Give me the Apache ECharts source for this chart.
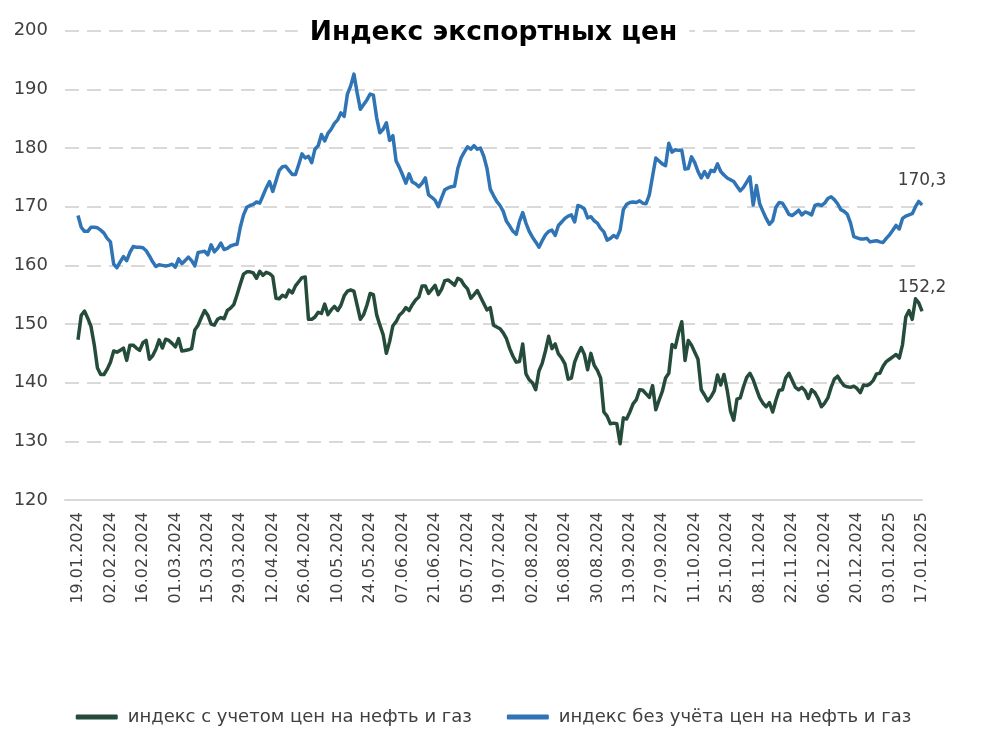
<!DOCTYPE html>
<html>
<head>
<meta charset="utf-8">
<script src="https://cdn.jsdelivr.net/npm/echarts@6/dist/echarts.min.js"></script>
<style>
html, body { margin: 0; padding: 0; background: #fff; }
#chart { width: 987px; height: 742px; }
</style>
</head>
<body>
<div id="chart"></div>
<script>
// business days 19.01.2024 .. 17.01.2025 (261 points)
const firstDay = new Date(2024, 0, 19)
const lastDay = new Date(2025, 0, 17)

// индекс с учетом цен на нефть и газ
const withOilGas = [
  147.3, 151.5, 152.2, 151.0, 149.6, 146.5, 142.5, 141.4, 141.4, 142.3,
  143.5, 145.4, 145.2, 145.5, 145.9, 143.8, 146.4, 146.4, 145.9, 145.5,
  146.8, 147.2, 144.0, 144.6, 145.7, 147.3, 145.9, 147.4, 147.2, 146.7,
  146.1, 147.5, 145.4, 145.5, 145.6, 145.8, 149.0, 149.8, 151.1, 152.3,
  151.5, 150.0, 149.8, 150.8, 151.1, 150.9, 152.3, 152.7, 153.3, 155.0,
  156.8, 158.5, 158.9, 158.9, 158.7, 157.8, 159.0, 158.3, 158.8, 158.6,
  158.1, 154.4, 154.3, 154.9, 154.6, 155.8, 155.3, 156.5, 157.2, 157.9,
  158.0, 150.8, 150.8, 151.2, 152.0, 151.8, 153.4, 151.6, 152.4, 153.0,
  152.3, 153.2, 154.8, 155.6, 155.8, 155.6, 153.2, 150.8, 151.6, 153.2,
  155.2, 155.0, 151.6, 149.8, 148.2, 145.0, 147.0, 149.7, 150.4, 151.5,
  152.0, 152.8, 152.3, 153.3, 154.1, 154.6, 156.5, 156.5, 155.2, 155.9,
  156.6, 155.0, 155.9, 157.4, 157.5, 157.1, 156.6, 157.8, 157.5, 156.6,
  156.0, 154.4, 155.0, 155.7, 154.6, 153.5, 152.4, 152.8, 149.8, 149.5,
  149.2, 148.5, 147.5, 145.8, 144.5, 143.5, 143.6, 146.6, 141.5, 140.5,
  140.0, 138.8, 142.0, 143.3, 145.4, 147.9, 145.8, 146.6, 144.9, 144.2,
  143.2, 140.6, 140.8, 143.5, 144.9, 146.0, 144.8, 142.2, 145.0, 143.0,
  142.1, 140.8, 135.0, 134.3, 133.0, 133.1, 133.0, 129.6, 134.0, 133.8,
  135.0, 136.4, 137.1, 138.8, 138.7, 138.1, 137.5, 139.5, 135.4, 137.0,
  138.5, 140.8, 141.6, 146.5, 146.0, 148.5, 150.4, 143.8, 147.2, 146.4,
  145.2, 144.0, 138.8, 137.9, 136.9, 137.6, 138.6, 141.3, 139.6, 141.4,
  138.7, 135.2, 133.6, 137.2, 137.4, 139.3, 140.9, 141.6, 140.5, 138.9,
  137.4, 136.5, 135.9, 136.6, 135.0, 137.0, 138.7, 138.8, 140.8, 141.6,
  140.4, 139.2, 138.8, 139.2, 138.6, 137.3, 138.8, 138.3, 137.3, 135.9,
  136.5, 137.4, 139.2, 140.6, 141.1, 140.2, 139.5, 139.3, 139.2, 139.4,
  139.0, 138.3, 139.6, 139.5, 139.8, 140.4, 141.5, 141.6, 142.8, 143.6,
  144.0, 144.4, 144.8, 144.2, 146.5, 151.2, 152.3, 150.8, 154.3, 153.6, 152.2
]

// индекс без учёта цен на нефть и газ
const withoutOilGas = [
  168.5, 166.5, 165.8, 165.8, 166.5, 166.5, 166.4, 166.0, 165.5, 164.6,
  164.0, 160.2, 159.6, 160.6, 161.5, 160.8, 162.2, 163.2, 163.1, 163.1,
  163.0, 162.5, 161.6, 160.6, 159.8, 160.1, 160.0, 159.9, 160.0, 160.2,
  159.7, 161.1, 160.3, 160.8, 161.4, 160.8, 159.9, 162.2, 162.3, 162.4,
  161.8, 163.5, 162.3, 162.9, 163.8, 162.7, 162.9, 163.3, 163.5, 163.6,
  166.5, 168.6, 169.9, 170.2, 170.4, 170.8, 170.6, 171.9, 173.2, 174.3,
  172.6, 174.4, 176.2, 176.8, 176.9, 176.2, 175.5, 175.5, 177.2, 179.0,
  178.3, 178.6, 177.5, 179.8, 180.4, 182.3, 181.2, 182.5, 183.2, 184.2,
  184.8, 186.0, 185.4, 189.2, 190.6, 192.6, 189.4, 186.6, 187.4, 188.2,
  189.2, 189.0, 185.2, 182.6, 183.2, 184.3, 181.3, 182.1, 177.8, 176.7,
  175.4, 174.0, 175.6, 174.2, 173.9, 173.4, 174.0, 174.9, 172.0, 171.6,
  171.1, 170.0, 171.5, 172.9, 173.2, 173.4, 173.5, 176.5, 178.3, 179.3,
  180.2, 179.8, 180.4, 179.8, 180.0, 178.6, 176.5, 173.0, 171.9, 170.9,
  170.2, 169.2, 167.5, 166.7, 165.8, 165.3, 167.5, 169.0, 167.2, 165.8,
  164.8, 164.0, 163.1, 164.2, 165.2, 165.8, 166.0, 165.1, 166.8, 167.4,
  168.0, 168.4, 168.6, 167.4, 170.2, 170.0, 169.6, 168.1, 168.3, 167.6,
  167.2, 166.3, 165.7, 164.3, 164.6, 165.1, 164.7, 166.0, 169.5, 170.4,
  170.7, 170.8, 170.7, 171.0, 170.6, 170.5, 172.0, 175.2, 178.3, 177.8,
  177.3, 177.0, 180.8, 179.3, 179.7, 179.6, 179.6, 176.4, 176.5, 178.5,
  177.5, 176.0, 174.9, 176.0, 175.0, 176.2, 176.0, 177.3, 176.0, 175.4,
  174.9, 174.6, 174.3, 173.5, 172.7, 173.3, 174.2, 175.1, 170.3, 173.6,
  170.5, 169.2, 168.0, 167.0, 167.6, 169.9, 170.7, 170.6, 169.7, 168.7,
  168.5, 168.9, 169.4, 168.6, 169.1, 168.9, 168.6, 170.2, 170.4, 170.2,
  170.6, 171.4, 171.7, 171.2, 170.5, 169.5, 169.2, 168.7, 167.2, 164.9,
  164.7, 164.5, 164.5, 164.6, 164.0, 164.1, 164.2, 164.0, 163.9, 164.6,
  165.2, 166.0, 166.8, 166.2, 168.0, 168.4, 168.6, 168.8, 170.0, 170.9, 170.3
]

const seriesNames = ['индекс с учетом цен на нефть и газ', 'индекс без учёта цен на нефть и газ']
const seriesColors = ['#254b3a', '#2f74b5']

function pad2 (n) {
  return (n < 10 ? '0' : '') + n
}

const dates = []
for (let d = new Date(firstDay); d <= lastDay; d.setDate(d.getDate() + 1)) {
  const wd = d.getDay()
  if (wd === 0 || wd === 6) continue
  dates.push(pad2(d.getDate()) + '.' + pad2(d.getMonth() + 1) + '.' + d.getFullYear())
}

// a few empty slots before the first day, the gridlines start a bit left of the data
const leadPad = 4
const categories = []
for (let k = 0; k < leadPad; k++) categories.push('_' + k)
categories.push(...dates)

function toSeriesData (values) {
  const out = new Array(leadPad).fill(null)
  values.forEach((v, idx) => {
    if (idx === values.length - 1) {
      // last point carries the value label
      out.push({ value: v, symbol: 'circle', symbolSize: 1, label: { show: true } })
    } else {
      out.push(v)
    }
  })
  return out
}

const textColor = '#404040'
const font = 'DejaVu Sans'

const endLabel = {
  position: 'top',
  distance: 15,
  fontFamily: font,
  fontSize: 17,
  color: textColor,
  formatter: (p) => String(p.value).replace('.', ',')
}

const chart = echarts.init(document.getElementById('chart'), null, { renderer: 'canvas' })

const option = {
  animation: false,
  backgroundColor: '#fff',
  textStyle: { fontFamily: font },
  title: {
    text: 'Индекс экспортных цен',
    left: 'center',
    top: 18,
    backgroundColor: '#fff',
    padding: [2, 12],
    textStyle: {
      fontFamily: font,
      fontSize: 26.5,
      fontWeight: 'bold',
      color: '#000'
    }
  },
  legend: {
    top: 703,
    left: 'center',
    itemWidth: 42,
    itemHeight: 5,
    itemGap: 35,
    icon: 'roundRect',
    textStyle: { fontFamily: font, fontSize: 18, color: textColor, padding: [0, 0, 0, 5] },
    data: seriesNames
  },
  grid: {
    left: 65,
    right: 65,
    top: 30.7,
    bottom: 242
  },
  xAxis: {
    type: 'category',
    data: categories,
    boundaryGap: false,
    axisLine: { lineStyle: { color: '#d9d9d9', width: 2 } },
    axisTick: { show: false },
    axisLabel: {
      rotate: 90,
      margin: 12,
      fontFamily: font,
      fontSize: 16,
      color: textColor,
      interval: (index) => index >= leadPad && (index - leadPad) % 10 === 0
    },
    splitLine: { show: false }
  },
  yAxis: {
    type: 'value',
    min: 120,
    max: 200,
    interval: 10,
    axisLine: { show: false },
    axisTick: { show: false },
    axisLabel: {
      margin: 17,
      fontFamily: font,
      fontSize: 18,
      color: textColor
    },
    splitLine: {
      lineStyle: { color: '#d9d9d9', width: 2, type: [14, 8] }
    }
  },
  series: [
    {
      name: seriesNames[0],
      type: 'line',
      data: toSeriesData(withOilGas),
      symbol: 'none',
      color: seriesColors[0],
      lineStyle: { width: 3.5, join: 'round' },
      label: endLabel
    },
    {
      name: seriesNames[1],
      type: 'line',
      data: toSeriesData(withoutOilGas),
      symbol: 'none',
      color: seriesColors[1],
      lineStyle: { width: 3.5, join: 'round' },
      label: endLabel
    }
  ]
}

chart.setOption(option)
</script>
</body>
</html>
